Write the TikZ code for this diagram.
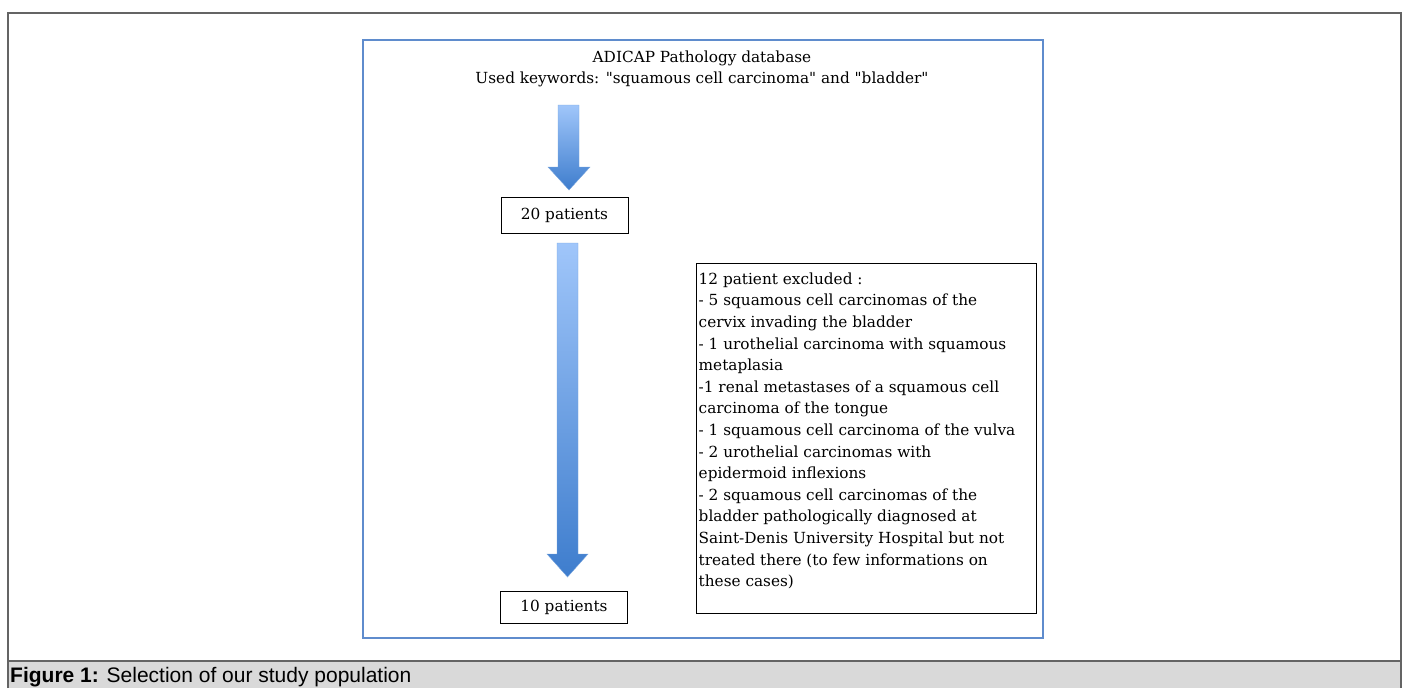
\documentclass[tikz,border=0pt]{standalone}
\usepackage{fontspec}
\newfontfamily\serifraw{DejaVu Serif}
\newfontfamily\capfont{Liberation Sans}
\definecolor{frameblue}{RGB}{95,140,205}
\definecolor{arrtop}{RGB}{160,198,250}
\definecolor{arrbot}{RGB}{62,125,205}
\definecolor{capgray}{RGB}{217,217,217}
\definecolor{framegray}{RGB}{100,100,100}
\tikzset{
  txt/.style={font=\serifraw\fontsize{15.3}{21.6}\selectfont, inner sep=0pt},
  pbox/.style={draw=black, line width=1pt, minimum width=127pt, minimum height=36pt, inner sep=0pt, font=\serifraw\fontsize{15.3}{21}\selectfont},
  blockarrow/.style={top color=arrtop, bottom color=arrbot, draw=arrbot!70!white, line width=0.4pt},
}
\begin{document}
\begin{tikzpicture}[x=1pt,y=-1pt]
\useasboundingbox (0,0) rectangle (1405,688);
% caption band
\fill[capgray] (8,661) rectangle (1401,688);
\draw[framegray, line width=1.5pt] (8,688) -- (8,13) -- (1401,13) -- (1401,688);
\draw[framegray, line width=1.5pt] (8,661) -- (1401,661);
\node[anchor=base west, inner sep=0pt, font=\capfont\fontsize{21}{22}\selectfont] (cap) at (10,682.5) {\textbf{Figure 1:} Selection of our study population};
% blue frame
\draw[frameblue, line width=2.5pt] (363,40) rectangle (1043,638);
% title
\node[txt, align=center] (title) at (702,69) {ADICAP Pathology database\\Used keywords: "squamous cell carcinoma" and "bladder"};
% boxes
\node[pbox] (p20) at (564.5,215) {20 patients};
\node[pbox, minimum height=32pt] (p10) at (564,607) {10 patients};
\node[draw=black, line width=1pt, minimum width=340pt, minimum height=350pt, inner sep=0pt] (excl) at (866,438) {};
\node[txt, anchor=north west, align=left] (exclt) at ([xshift=3pt,yshift=-10pt]excl.north west) {12 patient excluded :\\
- 5 squamous cell carcinomas of the\\
cervix invading the bladder\\
- 1 urothelial carcinoma with squamous\\
metaplasia\\
-1 renal metastases of a squamous cell\\
carcinoma of the tongue\\
- 1 squamous cell carcinoma of the vulva\\
- 2 urothelial carcinomas with\\
epidermoid inflexions\\
- 2 squamous cell carcinomas of the\\
bladder pathologically diagnosed at\\
Saint-Denis University Hospital but not\\
treated there (to few informations on\\
these cases)};
% block arrows
\coordinate (a1) at (569,105);
\path[blockarrow] (558,105) -- (579,105) -- (579,167) -- (590,167) -- (569,190) -- (548,167) -- (558,167) -- cycle;
\coordinate (a2) at (568,243);
\path[blockarrow] (557,243) -- (578,243) -- (578,554) -- (588,554) -- (567.5,577) -- (547,554) -- (557,554) -- cycle;
\end{tikzpicture}
\end{document}
